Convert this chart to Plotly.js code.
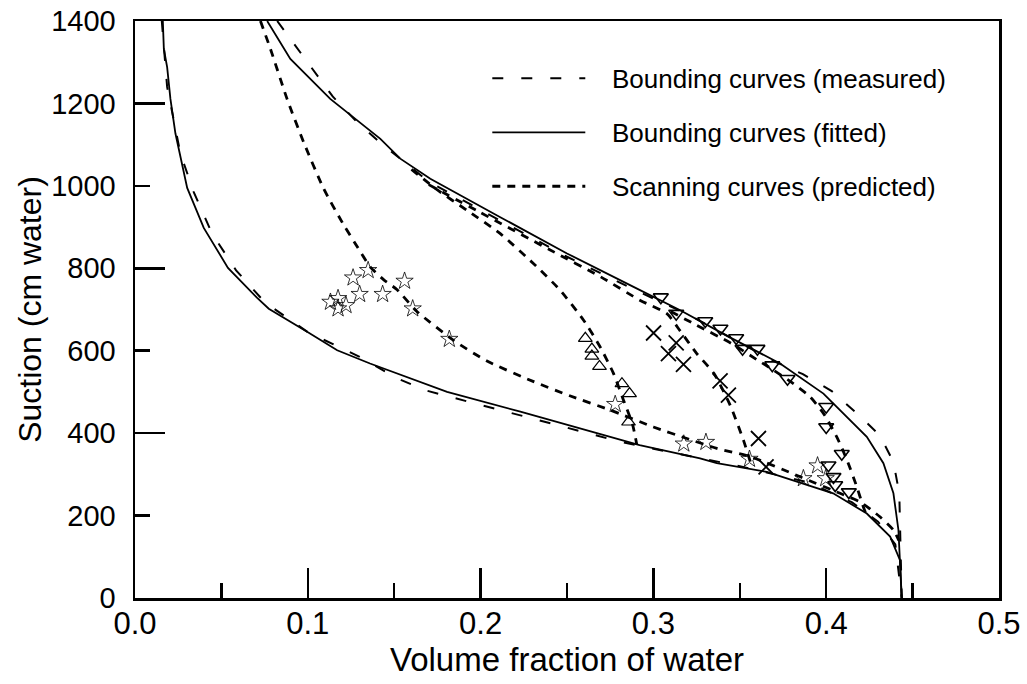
<!DOCTYPE html>
<html>
<head>
<meta charset="utf-8">
<script src="https://cdn.plot.ly/plotly-3.0.1.min.js"></script>
<style>html,body{margin:0;padding:0;background:#fff;}#chart{width:1027px;height:684px;}</style>
</head>
<body>
<div id="chart"></div>
<script>
// Bounding curves (fitted) - drying (upper) and wetting (lower)
const fitDryX = [0.0765, 0.0899, 0.113, 0.142, 0.1535, 0.1709, 0.2114, 0.25, 0.2885, 0.3155, 0.344, 0.3733, 0.3984, 0.408, 0.4235, 0.4331, 0.4389, 0.4418, 0.4427, 0.4437];
const fitDryY = [1400, 1308, 1211, 1114, 1066, 1017, 924, 836, 755, 698, 633, 569, 496, 456, 391, 327, 254, 165, 92, 0];
const fitWetX = [0.0161, 0.0167, 0.0186, 0.0205, 0.0234, 0.0302, 0.0398, 0.0538, 0.0707, 0.0774, 0.0996, 0.117, 0.136, 0.167, 0.1806, 0.223, 0.275, 0.292, 0.327, 0.3367, 0.3656, 0.404, 0.4235, 0.437, 0.4427, 0.4437];
const fitWetY = [1400, 1332, 1288, 1211, 1127, 995, 898, 801, 728, 702, 646, 601, 569, 520, 500, 452, 391, 371, 339, 327, 306, 254, 205, 149, 92, 0];

// Bounding curves (measured)
const measDryX = [0.0823, 0.0919, 0.1034, 0.1144, 0.1275, 0.141, 0.17, 0.21, 0.25, 0.29, 0.32, 0.3695, 0.3865, 0.4032, 0.4167, 0.431, 0.4389, 0.4423, 0.4427, 0.4437];
const measDryY = [1400, 1345, 1280, 1217, 1159, 1108, 1010, 918, 828, 746, 688, 575, 543, 502, 452, 395, 330, 254, 182, 0];
const measWetX = [0.0155, 0.0186, 0.0263, 0.034, 0.0445, 0.0585, 0.075, 0.1, 0.13, 0.1517, 0.168, 0.1863, 0.2046, 0.223, 0.2413, 0.2596, 0.28, 0.30, 0.35, 0.39, 0.415, 0.43, 0.44, 0.4437];
const measWetY = [1400, 1240, 1078, 985, 885, 795, 718, 645, 585, 533, 504, 484, 464, 444, 424, 403, 380, 362, 320, 280, 232, 185, 130, 0];

// Scanning curves (predicted)
const scan1X = [0.0726, 0.0784, 0.088, 0.0976, 0.1092, 0.1208, 0.129, 0.1362, 0.1440, 0.1517, 0.163, 0.1844, 0.2037, 0.2307, 0.252, 0.275, 0.300, 0.3194, 0.3367, 0.356, 0.385, 0.408, 0.4196, 0.4311, 0.4389, 0.4420];
const scan1Y = [1400, 1332, 1211, 1106, 993, 905, 850, 803, 772, 748, 696, 625, 575, 525, 490, 456, 415, 387, 363, 343, 294, 254, 233, 197, 165, 140];
const scan2X = [0.16, 0.175, 0.192, 0.2114, 0.2307, 0.246, 0.2596, 0.2692, 0.2769, 0.2827, 0.2880, 0.2904];
const scan2Y = [1040, 990, 941, 884, 811, 747, 674, 609, 545, 480, 420, 372];
const scan3X = [0.17, 0.2, 0.24, 0.27, 0.2924, 0.3078, 0.3155, 0.3251, 0.335, 0.3444, 0.3521, 0.357];
const scan3Y = [1003, 935, 845, 778, 722, 690, 648, 593, 545, 468, 383, 318];
const scan4X = [0.31, 0.325, 0.345, 0.36, 0.3695, 0.381, 0.3907, 0.3984, 0.4061, 0.412, 0.4177, 0.4215, 0.4235];
const scan4Y = [695, 662, 618, 578, 553, 520, 488, 448, 391, 335, 270, 221, 200];

// Measured scanning points
const starX = [0.1131, 0.1175, 0.1221, 0.1175, 0.1262, 0.1349, 0.130, 0.1433, 0.156, 0.1607, 0.1819, 0.2779, 0.3176, 0.3304, 0.3556, 0.3868, 0.395, 0.3997];
const starY = [718, 727, 710, 702, 777, 795, 737, 737, 769, 702, 628, 470, 374, 378, 337, 290, 321, 290];
const triUpX = [0.2606, 0.2644, 0.2644, 0.2688, 0.2818, 0.2862, 0.2856];
const triUpY = [630, 604, 587, 562, 520, 496, 427];
const crossX = [0.3001, 0.3132, 0.3087, 0.3174, 0.3386, 0.3434, 0.3608, 0.3652];
const crossY = [643, 619, 593, 567, 527, 492, 387, 318];
const triDnX = [0.3043, 0.3132, 0.33, 0.3388, 0.3479, 0.3516, 0.3602, 0.3688, 0.3776, 0.4, 0.4, 0.409, 0.4013, 0.4042, 0.4052, 0.4131];
const triDnY = [730, 690, 672, 654, 631, 605, 605, 565, 532, 464, 415, 350, 322, 294, 274, 257];

const legendNames = ['Bounding curves (measured)', 'Bounding curves (fitted)', 'Scanning curves (predicted)'];

const FONT = 'Liberation Sans, Arial, Helvetica, sans-serif';
const measLine = {color: 'black', width: 2, dash: '11px,18px'};
const fitLine = {color: 'black', width: 1.8};
const scanLine = {color: 'black', width: 2.8, dash: '8px,7px', shape: 'spline', smoothing: 0.6};

function line(x, y, ln, name, leg, show) {
  return {x: x, y: y, type: 'scatter', mode: 'lines', line: ln, name: name,
          legend: leg, showlegend: show, hoverinfo: 'skip'};
}
function pts(x, y, sym, size, lw) {
  return {x: x, y: y, type: 'scatter', mode: 'markers', showlegend: false, hoverinfo: 'skip',
          marker: {symbol: sym, size: size, color: 'black', line: {color: 'black', width: lw}}};
}

const NB = '\u00a0\u00a0\u00a0';
const traces = [
  line(measDryX, measDryY, measLine, NB + legendNames[0], 'legend', true),
  line(measWetX, measWetY, measLine, NB + legendNames[0], 'legend', false),
  line(fitDryX, fitDryY, fitLine, NB + legendNames[1], 'legend2', true),
  line(fitWetX, fitWetY, fitLine, NB + legendNames[1], 'legend2', false),
  line(scan1X, scan1Y, scanLine, NB + legendNames[2], 'legend3', true),
  line(scan2X, scan2Y, scanLine, NB + legendNames[2], 'legend3', false),
  line(scan3X, scan3Y, scanLine, NB + legendNames[2], 'legend3', false),
  line(scan4X, scan4Y, scanLine, NB + legendNames[2], 'legend3', false),
  pts(starX, starY, 'star-open', 13, 0.8),
  pts(triUpX, triUpY, 'triangle-up-open', 12, 1.2),
  pts(crossX, crossY, 'x-thin-open', 15, 1.8),
  pts(triDnX, triDnY, 'triangle-down-open', 13, 1.6),
  {x: [null], y: [null], yaxis: 'y2', type: 'scatter', mode: 'lines', showlegend: false, hoverinfo: 'skip'}
];

function legendAt(ypx) {
  return {x: (487 - 134.5) / 864.5, y: (598 - ypx) / 577.5, xanchor: 'left', yanchor: 'middle',
          xref: 'paper', yref: 'paper', bgcolor: 'rgba(0,0,0,0)', borderwidth: 0,
          itemwidth: 93, font: {family: FONT, size: 26, color: 'black'}};
}

const layout = {
  width: 1027, height: 684,
  margin: {l: 134.5, r: 28, t: 20.5, b: 86, pad: 0},
  paper_bgcolor: 'white', plot_bgcolor: 'white',
  font: {family: FONT, color: 'black'},
  showlegend: true,
  legend: legendAt(78),
  legend2: legendAt(132),
  legend3: legendAt(186),
  xaxis: {
    range: [0, 0.5], dtick: 0.1, tick0: 0, tickformat: '.1f',
    ticks: 'inside', ticklen: 30, tickwidth: 2.5, tickcolor: 'black',
    minor: {dtick: 0.05, ticks: 'inside', ticklen: 15, tickwidth: 2.5, tickcolor: 'black', showgrid: false},
    showline: true, linewidth: 2.5, linecolor: 'black', mirror: true,
    showgrid: false, zeroline: false,
    tickfont: {family: FONT, size: 31, color: 'black'},
    ticklabelstandoff: -4,
    title: {text: 'Volume fraction of water', font: {family: FONT, size: 33, color: 'black'}, standoff: 7}
  },
  yaxis: {
    range: [0, 1400], dtick: 200, tick0: 0,
    ticks: 'inside', ticklen: 15, tickwidth: 2.5, tickcolor: 'black',
    showline: true, linewidth: 2.5, linecolor: 'black', mirror: true,
    showgrid: false, zeroline: false,
    tickfont: {family: FONT, size: 29, color: 'black'},
    ticklabelstandoff: 11,
    title: {text: 'Suction (cm water)', font: {family: FONT, size: 32, color: 'black'}, standoff: 0}
  },
  yaxis2: {
    overlaying: 'y', side: 'left', range: [0, 1400], dtick: 400, tick0: 0,
    ticks: 'inside', ticklen: 30, tickwidth: 2.5, tickcolor: 'black',
    showticklabels: false, showgrid: false, zeroline: false, showline: false
  }
};

Plotly.newPlot('chart', traces, layout, {staticPlot: true, displayModeBar: false});
</script>
</body>
</html>
